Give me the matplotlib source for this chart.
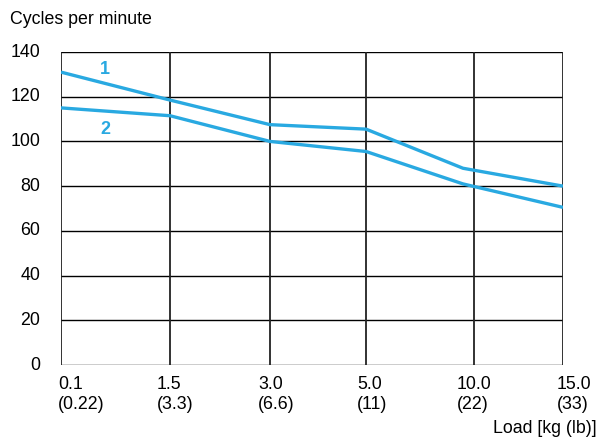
import matplotlib
matplotlib.use('Agg')
from matplotlib import pyplot
from matplotlib import transforms

pyplot.rcParams['font.family'] = ['Liberation Sans', 'DejaVu Sans']

# x axis categories (load) and where the chart puts them
load_kg = ['0.1', '1.5', '3.0', '5.0', '10.0', '15.0']
load_lb = ['(0.22)', '(3.3)', '(6.6)', '(11)', '(22)', '(33)']
load_pos = [0, 1.09, 2.09, 3.05, 4.13, 5.02]

# curve 1 and curve 2 (cycles per minute)
x1 = [0, 1.09, 2.09, 3.05, 4.02, 5.02]
cpm1 = [131, 118.5, 107.5, 105.5, 88, 80]
x2 = [0, 1.09, 2.09, 3.05, 4.02, 5.02]
cpm2 = [115, 111.5, 100, 95.5, 81, 70.5]

yticks = [0, 20, 40, 60, 80, 100, 120, 140]
blue = '#29a9e1'
fs = 12.8

fig = pyplot.figure(figsize=(5.98, 4.39), dpi=100)
ax = fig.add_axes([61 / 598, 1 - 366 / 439, 502 / 598, 313 / 439])

for y in yticks:
    ax.axhline(y, color='black', lw=1.0, zorder=1)
for x in load_pos:
    ax.axvline(x, color='#222222', lw=1.3, zorder=1)

ax.plot(x1, cpm1, color=blue, lw=2.4, solid_capstyle='butt', zorder=3)
ax.plot(x2, cpm2, color=blue, lw=2.4, solid_capstyle='butt', zorder=3)
ax.text(0.44, 132.5, '1', color=blue, fontsize=13, fontweight='bold', ha='center', va='center')
ax.text(0.44, 106, '2', color=blue, fontsize=13, fontweight='bold', ha='center', va='center')

ax.set_xlim(load_pos[0], load_pos[-1])
ax.set_ylim(0, 140)
for s in ax.spines.values():
    s.set_visible(False)

ax.set_yticks(yticks)
ax.set_yticklabels([str(v) for v in yticks], fontsize=fs)
ax.tick_params(axis='y', length=0, pad=15)
shift = transforms.ScaledTranslation(0, 3 / 100, fig.dpi_scale_trans)
for lab in ax.get_yticklabels():
    lab.set_transform(lab.get_transform() + shift)
ax.set_xticks([])

# two-line x labels, left aligned just before each grid line
offsets = [-3, -13, -12, -9, -17, -6]
for pos, kg, lb, off in zip(load_pos, load_kg, load_lb, offsets):
    tr = ax.get_xaxis_transform() + transforms.ScaledTranslation(off / 100, 0, fig.dpi_scale_trans)
    ax.text(pos, -0.033, kg + '\n' + lb, transform=tr, ha='left', va='top',
            fontsize=fs, linespacing=1.2, clip_on=False)

fig.text(10 / 598, 1 - 19 / 439, 'Cycles per minute', fontsize=fs, ha='left', va='center')
fig.text(597 / 598, 1 - 429 / 439, 'Load [kg (lb)]', fontsize=fs, ha='right', va='center')

fig.savefig('out.png', dpi=100)
